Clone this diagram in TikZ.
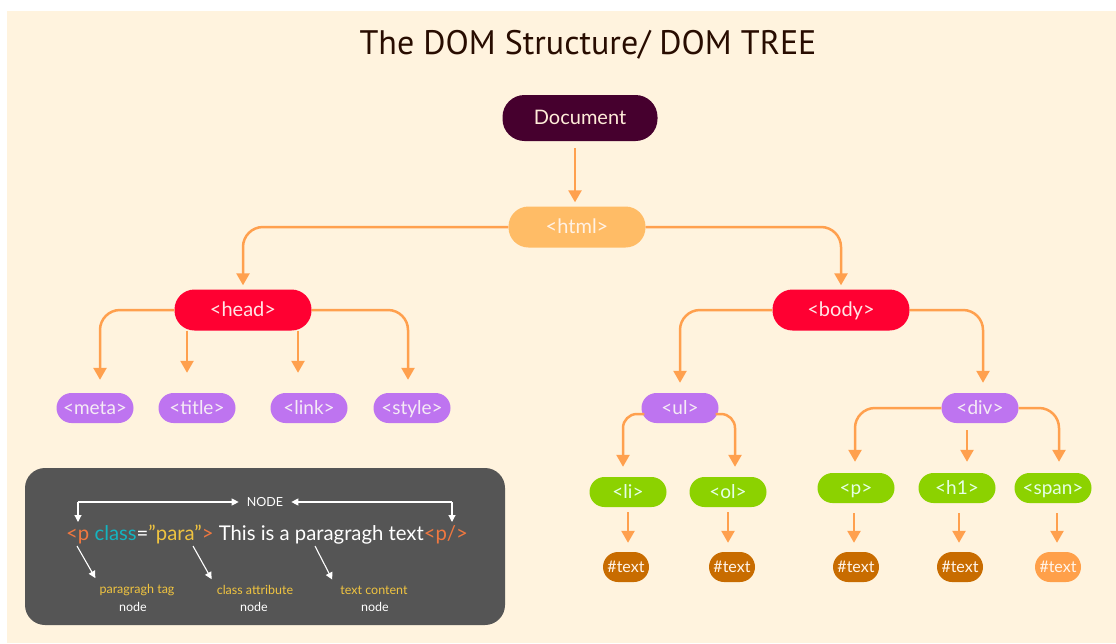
\documentclass[tikz,border=0pt]{standalone}
\usepackage{fontspec}
\setmainfont{Lato}
\newfontfamily\titlefont{PT Sans}
\usetikzlibrary{arrows.meta,calc}
\definecolor{bgcream}{RGB}{255,243,222}
\definecolor{conncol}{RGB}{255,160,78}
\definecolor{docpurple}{RGB}{70,0,46}
\definecolor{htmlorange}{RGB}{255,188,102}
\definecolor{tagred}{RGB}{255,0,50}
\definecolor{tagpurple}{RGB}{190,116,240}
\definecolor{taggreen}{RGB}{140,210,0}
\definecolor{textbrown}{RGB}{200,108,0}
\definecolor{textlight}{RGB}{255,160,74}
\definecolor{boxgrey}{RGB}{85,85,85}
\definecolor{codeorange}{RGB}{240,120,64}
\definecolor{codeteal}{RGB}{20,180,192}
\definecolor{codeyellow}{RGB}{240,196,64}
\definecolor{titlebrown}{RGB}{40,12,0}
\begin{document}
\begin{tikzpicture}[x=1pt,y=-1pt,
  pill/.style={inner sep=0pt},
  bignode/.style={pill, minimum width=137pt, minimum height=41pt, rounded corners=20pt, font=\fontsize{20}{20}\selectfont, text height=14.2pt, text depth=0.8pt},
  midnode/.style={pill, minimum width=77pt, minimum height=30pt, rounded corners=15pt, font=\fontsize{19}{19}\selectfont, text height=13.6pt, text depth=0.8pt},
  txtnode/.style={pill, minimum width=46pt, minimum height=30pt, rounded corners=15pt, font=\fontsize{16}{16}\selectfont, text height=11.6pt, text depth=0.6pt, text=white!92!orange},
  conn/.style={draw=conncol, line width=2.5pt, -{Triangle[width=13pt,length=12pt]}},
  wconn/.style={draw=white, line width=1.1pt, -{Triangle[width=7pt,length=7pt]}},
  lbl/.style={inner sep=0pt, font=\fontsize{12.5}{12.5}\selectfont}
]
\useasboundingbox (0,0) rectangle (1116,643);
\fill[white] (0,0) rectangle (1116,643);
\fill[bgcream] (7,11) rectangle (1116,643);

\node[inner sep=0pt, text=titlebrown, font=\titlefont\fontsize{34}{34}\selectfont] (title) at (588,45) {The DOM Structure/ DOM TREE};

% tree nodes
\node[bignode, fill=docpurple, minimum width=155pt, minimum height=46pt, rounded corners=22pt, text=white!85!orange] (doc) at (580,118) {Document};
\node[bignode, fill=htmlorange, text=white!90!orange] (html) at (577,227) {<html>};
\node[bignode, fill=tagred, text=white!90!red] (head) at (243,310) {<head>};
\node[bignode, fill=tagred, text=white!90!red] (body) at (841,310) {<body>};

\node[midnode, fill=tagpurple, text=white!92!violet] (meta) at (95,408) {<meta>};
\node[midnode, fill=tagpurple, text=white!92!violet] (titletag) at (197,408) {<title>};
\node[midnode, fill=tagpurple, text=white!92!violet] (link) at (309,408) {<link>};
\node[midnode, fill=tagpurple, text=white!92!violet] (style) at (412,408) {<style>};
\node[midnode, fill=tagpurple, text=white!92!violet] (ul) at (680,408) {<ul>};
\node[midnode, fill=tagpurple, text=white!92!violet] (div) at (980,408) {<div>};

\node[midnode, fill=taggreen, text=white!90!green] (li) at (628,492) {<li>};
\node[midnode, fill=taggreen, text=white!90!green] (ol) at (728,492) {<ol>};
\node[midnode, fill=taggreen, text=white!90!green] (p) at (856,488) {<p>};
\node[midnode, fill=taggreen, text=white!90!green] (h1) at (957,488) {<h1>};
\node[midnode, fill=taggreen, text=white!90!green] (span) at (1053,488) {<span>};

\node[txtnode, fill=textbrown] (t1) at (626,567) {\#text};
\node[txtnode, fill=textbrown] (t2) at (732,567) {\#text};
\node[txtnode, fill=textbrown] (t3) at (856,567) {\#text};
\node[txtnode, fill=textbrown] (t4) at (960,567) {\#text};
\node[txtnode, fill=textlight] (t5) at (1058,567) {\#text};

% connectors
\draw[conn] ($(doc.south)+(-5,7)$) -- ($(html.north)+(-2,-4)$);
\draw[conn, rounded corners=20pt] (html.west) -| ($(head.north)+(0,-4)$);
\draw[conn, rounded corners=20pt] (html.east) -| ($(body.north)+(0,-4)$);

\draw[conn, rounded corners=20pt] (head.west) -| ($(meta.north)+(5,-13)$);
\draw[conn] ($(head.south)+(-56,0)$) -- ($(titletag.north)+(-10,-20)$);
\draw[conn] ($(head.south)+(55,0)$) -- ($(link.north)+(-11,-20)$);
\draw[conn, rounded corners=20pt] (head.east) -| ($(style.north)+(-4,-13)$);

\draw[conn, rounded corners=20pt] (body.west) -| ($(ul.north)+(0,-10)$);
\draw[conn, rounded corners=20pt] (body.east) -| ($(div.north)+(3,-10)$);

\draw[conn, rounded corners=14pt] ($(ul.west)+(3,6)$) -| ($(li.north)+(-5,-10)$);
\draw[conn, rounded corners=14pt] ($(ul.east)+(-3,6)$) -| ($(ol.north)+(7,-10)$);

\draw[conn, rounded corners=20pt] (div.west) -| ($(p.north)+(-1,-11)$);
\draw[conn] ($(div.south)+(-13,7)$) -- ($(h1.north)+(10,-11)$);
\draw[conn, rounded corners=20pt] (div.east) -| ($(span.north)+(6,-11)$);

\draw[conn] ($(li.south)+(0,5)$) -- ($(t1.north)+(2,-9)$);
\draw[conn] ($(ol.south)+(0,5)$) -- ($(t2.north)+(-4,-9)$);
\draw[conn] ($(p.south)+(-2,10)$) -- ($(t3.north)+(-2,-9)$);
\draw[conn] ($(h1.south)+(2,10)$) -- ($(t4.north)+(-1,-9)$);
\draw[conn] ($(span.south)+(4,10)$) -- ($(t5.north)+(-1,-9)$);

% legend box
\fill[boxgrey, rounded corners=20pt] (25,468) rectangle (505,625);
\node[lbl, text=white] (nodelbl) at (265,502) {NODE};
\node[inner sep=0pt, anchor=west, font=\fontsize{20.3}{20.3}\selectfont] (code) at (66,535) {\textcolor{codeorange}{<p} \textcolor{codeteal}{class}\textcolor{white}{=}\textcolor{codeyellow}{”para”}\textcolor{codeorange}{>} \textcolor{white}{This is a paragragh text}\textcolor{codeorange}{<p/>}};
\coordinate (lc) at (78,502);
\coordinate (rc) at (452,502);
\draw[wconn] (lc) -- ($(nodelbl.west)+(-8,0)$);
\draw[wconn] (lc) -- ($(lc)+(0,20)$);
\draw[wconn] (rc) -- ($(nodelbl.east)+(8,0)$);
\draw[wconn] (rc) -- ($(rc)+(0,20)$);

\node[lbl, text=codeyellow] (l1a) at (137,590) {paragragh tag};
\node[lbl, text=white] (l1b) at (133,607) {node};
\node[lbl, text=codeyellow] (l2a) at (255,590) {class attribute};
\node[lbl, text=white] (l2b) at (254,607) {node};
\node[lbl, text=codeyellow] (l3a) at (374,590) {text content};
\node[lbl, text=white] (l3b) at (375,607) {node};

\coordinate (s1) at (77,546);
\coordinate (s2) at (193,546);
\coordinate (s3) at (315,546);
\draw[wconn] (s1) -- ($(l1a.north west)+(-4,-6)$);
\draw[wconn] (s2) -- ($(l2a.north west)+(-5,-6)$);
\draw[wconn] (s3) -- ($(l3a.north west)+(-8,-6)$);
\end{tikzpicture}
\end{document}
